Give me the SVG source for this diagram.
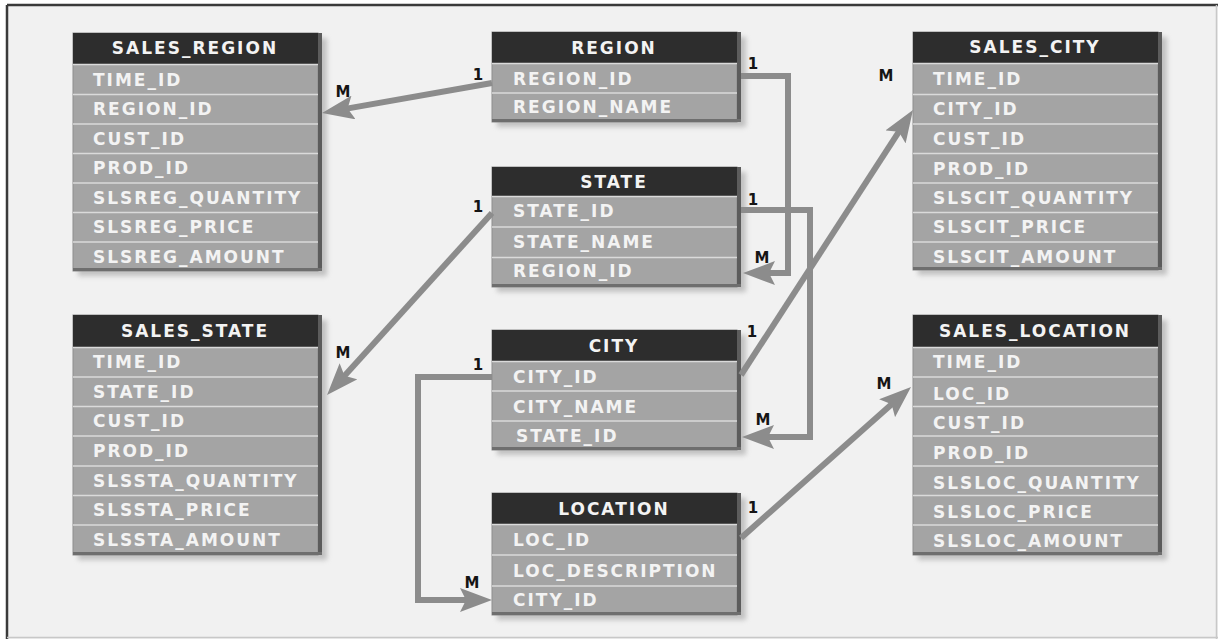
<svg xmlns="http://www.w3.org/2000/svg" width="1218" height="639" viewBox="0 0 1218 639">
  <defs>
    <filter id="soft" x="-10%" y="-10%" width="130%" height="130%">
      <feGaussianBlur stdDeviation="2.5"/>
    </filter>
    <marker id="head" viewBox="0 0 32 24" markerWidth="32" markerHeight="24" refX="17" refY="12" orient="auto" markerUnits="userSpaceOnUse">
      <path d="M0,0 L32,12 L0,24 L6,12 Z" fill="#8c8c8c"/>
    </marker>
    <style>
      .paper { fill: #f1f1f1; }
      .rule { stroke: #3a3a3a; stroke-width: 2.5; }
      .rule-light { stroke: #c8c8c8; stroke-width: 1.5; }
      .shadow { fill: #9a9a9a; opacity: 0.55; filter: url(#soft); }
      .body { fill: #a4a4a4; stroke: #8e8e8e; stroke-width: 1; }
      .hdr { fill: #2d2d2d; }
      .edge { fill: #5c5c5c; }
      .foot { fill: #6e6e6e; }
      .sep { stroke: #dadada; stroke-width: 1.6; }
      .ht, .ft { font-family: "DejaVu Sans", "Liberation Sans", sans-serif; font-weight: bold; font-size: 17px; letter-spacing: 2px; fill: #f3f3f3; }
      .ht { text-anchor: middle; }
      .link { fill: none; stroke: #8c8c8c; stroke-width: 6; stroke-linejoin: miter; }
      .card { font-family: "DejaVu Sans", "Liberation Sans", sans-serif; font-weight: bold; font-size: 15px; fill: #151515; text-anchor: middle; }
    </style>
  </defs>

  <rect x="0" y="0" width="1218" height="639" fill="#ffffff"/>
  <rect class="paper" x="7" y="5" width="1211" height="634"/>
  <line class="rule" x1="7" y1="5" x2="1218" y2="5"/>
  <line class="rule" x1="7" y1="5" x2="7" y2="639"/>
  <line class="rule-light" x1="1216.5" y1="5" x2="1216.5" y2="639"/>
  <line class="rule-light" x1="7" y1="637.5" x2="1218" y2="637.5"/>

  <!-- fact table: sales by region -->
  <g id="sales_region">
    <rect class="shadow" x="78" y="38" width="249" height="238"/>
    <rect class="body" x="73" y="33" width="245" height="238"/>
    <rect class="hdr" x="73" y="33" width="245" height="31"/>
    <rect class="edge" x="318" y="33" width="4" height="238"/>
    <rect class="foot" x="73" y="268" width="249" height="3"/>
    <g class="sep">
      <line x1="73" y1="64.5" x2="318" y2="64.5"/>
      <line x1="73" y1="94.5" x2="318" y2="94.5"/>
      <line x1="73" y1="124" x2="318" y2="124"/>
      <line x1="73" y1="153.5" x2="318" y2="153.5"/>
      <line x1="73" y1="183" x2="318" y2="183"/>
      <line x1="73" y1="212.5" x2="318" y2="212.5"/>
      <line x1="73" y1="242" x2="318" y2="242"/>
    </g>
    <text class="ht" x="195" y="54">SALES_REGION</text>
    <text class="ft" x="93" y="86">TIME_ID</text>
    <text class="ft" x="93" y="115">REGION_ID</text>
    <text class="ft" x="93" y="145">CUST_ID</text>
    <text class="ft" x="93" y="174">PROD_ID</text>
    <text class="ft" x="93" y="204">SLSREG_QUANTITY</text>
    <text class="ft" x="93" y="233">SLSREG_PRICE</text>
    <text class="ft" x="93" y="263">SLSREG_AMOUNT</text>
  </g>

  <!-- fact table: sales by state -->
  <g id="sales_state">
    <rect class="shadow" x="78" y="320" width="249" height="240"/>
    <rect class="body" x="73" y="315" width="245" height="240"/>
    <rect class="hdr" x="73" y="315" width="245" height="32"/>
    <rect class="edge" x="318" y="315" width="4" height="240"/>
    <rect class="foot" x="73" y="552" width="249" height="3"/>
    <g class="sep">
      <line x1="73" y1="347.5" x2="318" y2="347.5"/>
      <line x1="73" y1="377" x2="318" y2="377"/>
      <line x1="73" y1="406.5" x2="318" y2="406.5"/>
      <line x1="73" y1="436" x2="318" y2="436"/>
      <line x1="73" y1="466" x2="318" y2="466"/>
      <line x1="73" y1="495.5" x2="318" y2="495.5"/>
      <line x1="73" y1="525" x2="318" y2="525"/>
    </g>
    <text class="ht" x="195" y="337">SALES_STATE</text>
    <text class="ft" x="93" y="368">TIME_ID</text>
    <text class="ft" x="93" y="398">STATE_ID</text>
    <text class="ft" x="93" y="427">CUST_ID</text>
    <text class="ft" x="93" y="457">PROD_ID</text>
    <text class="ft" x="93" y="487">SLSSTA_QUANTITY</text>
    <text class="ft" x="93" y="516">SLSSTA_PRICE</text>
    <text class="ft" x="93" y="546">SLSSTA_AMOUNT</text>
  </g>

  <!-- dimension: region -->
  <g id="region">
    <rect class="shadow" x="497" y="37" width="249" height="90"/>
    <rect class="body" x="492" y="32" width="245" height="90"/>
    <rect class="hdr" x="492" y="32" width="245" height="31"/>
    <rect class="edge" x="737" y="32" width="4" height="90"/>
    <rect class="foot" x="492" y="119" width="249" height="3"/>
    <g class="sep">
      <line x1="492" y1="63.5" x2="737" y2="63.5"/>
      <line x1="492" y1="93" x2="737" y2="93"/>
    </g>
    <text class="ht" x="614" y="54">REGION</text>
    <text class="ft" x="513" y="85">REGION_ID</text>
    <text class="ft" x="513" y="113">REGION_NAME</text>
  </g>

  <!-- dimension: state -->
  <g id="state">
    <rect class="shadow" x="497" y="172" width="249" height="120"/>
    <rect class="body" x="492" y="167" width="245" height="120"/>
    <rect class="hdr" x="492" y="167" width="245" height="29"/>
    <rect class="edge" x="737" y="167" width="4" height="120"/>
    <rect class="foot" x="492" y="284" width="249" height="3"/>
    <g class="sep">
      <line x1="492" y1="196.5" x2="737" y2="196.5"/>
      <line x1="492" y1="227" x2="737" y2="227"/>
      <line x1="492" y1="257.5" x2="737" y2="257.5"/>
    </g>
    <text class="ht" x="614" y="188">STATE</text>
    <text class="ft" x="513" y="217">STATE_ID</text>
    <text class="ft" x="513" y="248">STATE_NAME</text>
    <text class="ft" x="513" y="277">REGION_ID</text>
  </g>

  <!-- dimension: city -->
  <g id="city">
    <rect class="shadow" x="497" y="335" width="249" height="120"/>
    <rect class="body" x="492" y="330" width="245" height="120"/>
    <rect class="hdr" x="492" y="330" width="245" height="31"/>
    <rect class="edge" x="737" y="330" width="4" height="120"/>
    <rect class="foot" x="492" y="447" width="249" height="3"/>
    <g class="sep">
      <line x1="492" y1="361.5" x2="737" y2="361.5"/>
      <line x1="492" y1="391" x2="737" y2="391"/>
      <line x1="492" y1="421" x2="737" y2="421"/>
    </g>
    <text class="ht" x="614" y="352">CITY</text>
    <text class="ft" x="513" y="383">CITY_ID</text>
    <text class="ft" x="513" y="413">CITY_NAME</text>
    <text class="ft" x="516" y="442">STATE_ID</text>
  </g>

  <!-- dimension: location -->
  <g id="location">
    <rect class="shadow" x="497" y="498" width="249" height="122"/>
    <rect class="body" x="492" y="493" width="245" height="122"/>
    <rect class="hdr" x="492" y="493" width="245" height="31"/>
    <rect class="edge" x="737" y="493" width="4" height="122"/>
    <rect class="foot" x="492" y="612" width="249" height="3"/>
    <g class="sep">
      <line x1="492" y1="524.5" x2="737" y2="524.5"/>
      <line x1="492" y1="555" x2="737" y2="555"/>
      <line x1="492" y1="586" x2="737" y2="586"/>
    </g>
    <text class="ht" x="614" y="515">LOCATION</text>
    <text class="ft" x="513" y="546">LOC_ID</text>
    <text class="ft" x="513" y="577">LOC_DESCRIPTION</text>
    <text class="ft" x="513" y="606">CITY_ID</text>
  </g>

  <!-- fact table: sales by city -->
  <g id="sales_city">
    <rect class="shadow" x="918" y="37" width="249" height="238"/>
    <rect class="body" x="913" y="32" width="245" height="238"/>
    <rect class="hdr" x="913" y="32" width="245" height="31"/>
    <rect class="edge" x="1158" y="32" width="4" height="238"/>
    <rect class="foot" x="913" y="267" width="249" height="3"/>
    <g class="sep">
      <line x1="913" y1="63.5" x2="1158" y2="63.5"/>
      <line x1="913" y1="94.5" x2="1158" y2="94.5"/>
      <line x1="913" y1="124" x2="1158" y2="124"/>
      <line x1="913" y1="153.5" x2="1158" y2="153.5"/>
      <line x1="913" y1="183" x2="1158" y2="183"/>
      <line x1="913" y1="212.5" x2="1158" y2="212.5"/>
      <line x1="913" y1="242" x2="1158" y2="242"/>
    </g>
    <text class="ht" x="1035" y="53">SALES_CITY</text>
    <text class="ft" x="933" y="85">TIME_ID</text>
    <text class="ft" x="933" y="115">CITY_ID</text>
    <text class="ft" x="933" y="145">CUST_ID</text>
    <text class="ft" x="933" y="175">PROD_ID</text>
    <text class="ft" x="933" y="204">SLSCIT_QUANTITY</text>
    <text class="ft" x="933" y="233">SLSCIT_PRICE</text>
    <text class="ft" x="933" y="263">SLSCIT_AMOUNT</text>
  </g>

  <!-- fact table: sales by location -->
  <g id="sales_location">
    <rect class="shadow" x="918" y="320" width="249" height="240"/>
    <rect class="body" x="913" y="315" width="245" height="240"/>
    <rect class="hdr" x="913" y="315" width="245" height="32"/>
    <rect class="edge" x="1158" y="315" width="4" height="240"/>
    <rect class="foot" x="913" y="552" width="249" height="3"/>
    <g class="sep">
      <line x1="913" y1="347.5" x2="1158" y2="347.5"/>
      <line x1="913" y1="377" x2="1158" y2="377"/>
      <line x1="913" y1="406.5" x2="1158" y2="406.5"/>
      <line x1="913" y1="436" x2="1158" y2="436"/>
      <line x1="913" y1="466" x2="1158" y2="466"/>
      <line x1="913" y1="495.5" x2="1158" y2="495.5"/>
      <line x1="913" y1="525" x2="1158" y2="525"/>
    </g>
    <text class="ht" x="1035" y="337">SALES_LOCATION</text>
    <text class="ft" x="933" y="368">TIME_ID</text>
    <text class="ft" x="933" y="400">LOC_ID</text>
    <text class="ft" x="933" y="429">CUST_ID</text>
    <text class="ft" x="933" y="459">PROD_ID</text>
    <text class="ft" x="933" y="489">SLSLOC_QUANTITY</text>
    <text class="ft" x="933" y="518">SLSLOC_PRICE</text>
    <text class="ft" x="933" y="547">SLSLOC_AMOUNT</text>
  </g>

  <!-- relationships (1 to M) -->
  <g id="connectors">
    <path class="link" d="M492,83 L336.8,110.4" marker-end="url(#head)"/>
    <path class="link" d="M741,76 H788 V273 H758" marker-end="url(#head)"/>
    <path class="link" d="M741,210 H810 V437 H757" marker-end="url(#head)"/>
    <path class="link" d="M492,213 L337.1,383.9" marker-end="url(#head)"/>
    <path class="link" d="M741,375 L904.8,122.6" marker-end="url(#head)"/>
    <path class="link" d="M492,377 H418 V600 H477" marker-end="url(#head)"/>
    <path class="link" d="M741,538 L899.8,396.9" marker-end="url(#head)"/>

    <g class="card">
      <text x="478" y="80">1</text>
      <text x="343" y="97">M</text>
      <text x="753" y="69">1</text>
      <text x="762" y="263">M</text>
      <text x="478" y="212">1</text>
      <text x="343" y="358">M</text>
      <text x="753" y="205">1</text>
      <text x="763" y="425">M</text>
      <text x="752" y="337">1</text>
      <text x="886" y="81">M</text>
      <text x="478" y="370">1</text>
      <text x="472" y="588">M</text>
      <text x="753" y="513">1</text>
      <text x="884" y="389">M</text>
    </g>
  </g>
</svg>
